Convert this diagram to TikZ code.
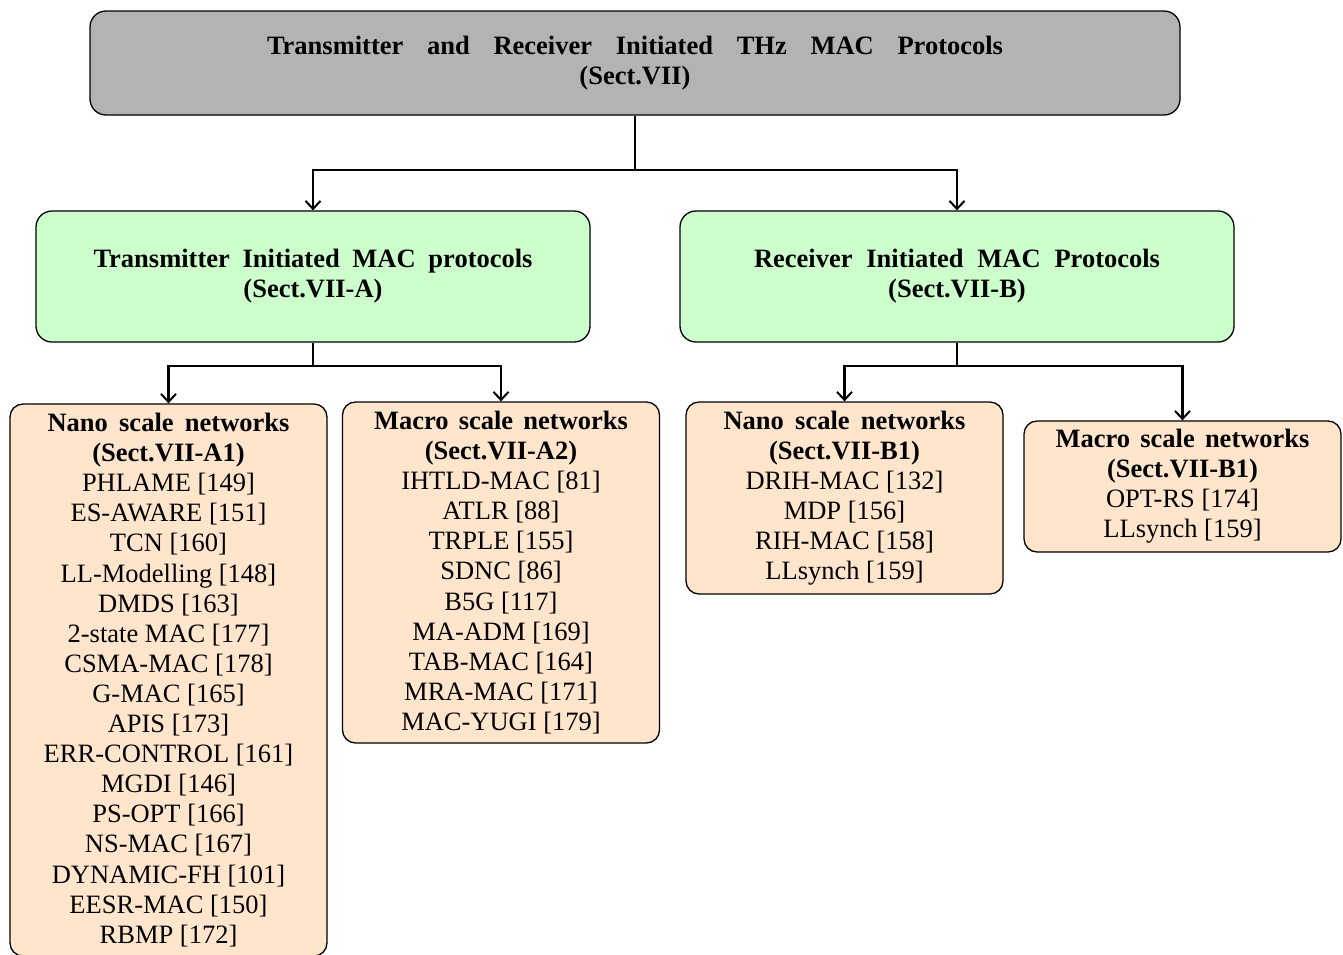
\documentclass[tikz,border=0pt]{standalone}
\usepackage{fontspec}
\setmainfont{Liberation Serif}
\usetikzlibrary{arrows.meta}
\definecolor{topgray}{HTML}{B3B3B3}
\definecolor{midgreen}{HTML}{CCFFCC}
\definecolor{peach}{HTML}{FFE5CC}
\begin{document}
\begin{tikzpicture}[x=1pt,y=-1pt,
  txt/.style={font=\fontsize{26.5}{30.1}\selectfont, align=center, inner sep=0pt},
  topbox/.style={txt, draw=black, line width=1.3pt, fill=topgray, rounded corners=16pt, minimum width=1090pt, minimum height=104pt},
  midbox/.style={txt, draw=black, line width=1.3pt, fill=midgreen, rounded corners=16pt, minimum width=554pt, minimum height=131pt},
  leafbox/.style={txt, draw=black, line width=1.3pt, fill=peach, rounded corners=13pt, minimum width=317pt},
  conn/.style={line width=2.6pt, -{Straight Barb[length=8pt,width=15pt,line width=2pt]}}
]
\useasboundingbox (0,0) rectangle (1343,954);

\node[topbox] (top) at (635,63) {\textbf{\makebox[736pt][s]{Transmitter and Receiver Initiated THz MAC Protocols}}\\ \textbf{(Sect.VII)}};

\node[midbox] (tx) at (313,276.5) {\textbf{\makebox[439pt][s]{Transmitter Initiated MAC protocols}}\\ \textbf{(Sect.VII-A)}};
\node[midbox] (rx) at (957,276.5) {\textbf{\makebox[406pt][s]{Receiver Initiated MAC Protocols}}\\ \textbf{(Sect.VII-B)}};

\node[leafbox, minimum height=552pt] (a1) at (168.5,680) {\textbf{\makebox[242pt][s]{Nano scale networks}}\\ \textbf{(Sect.VII-A1)}\\
PHLAME [149]\\ ES-AWARE [151]\\ TCN [160]\\ LL-Modelling [148]\\ DMDS [163]\\ 2-state MAC [177]\\ CSMA-MAC [178]\\ G-MAC [165]\\ APIS [173]\\ ERR-CONTROL [161]\\ MGDI [146]\\ PS-OPT [166]\\ NS-MAC [167]\\ DYNAMIC-FH [101]\\ EESR-MAC [150]\\ RBMP [172]};

\node[leafbox, minimum height=341pt] (a2) at (501,572.5) {\textbf{\makebox[254pt][s]{Macro scale networks}}\\ \textbf{(Sect.VII-A2)}\\
IHTLD-MAC [81]\\ ATLR [88]\\ TRPLE [155]\\ SDNC [86]\\ B5G [117]\\ MA-ADM [169]\\ TAB-MAC [164]\\ MRA-MAC [171]\\ MAC-YUGI [179]};

\node[leafbox, minimum height=192pt] (b1) at (844.5,498) {\textbf{\makebox[242pt][s]{Nano scale networks}}\\ \textbf{(Sect.VII-B1)}\\
DRIH-MAC [132]\\ MDP [156]\\ RIH-MAC [158]\\ LLsynch [159]};

\node[leafbox, minimum height=131pt] (b2) at (1182.5,486.5) {\textbf{\makebox[254pt][s]{Macro scale networks}}\\ \textbf{(Sect.VII-B1)}\\
OPT-RS [174]\\ LLsynch [159]};

\coordinate (j0) at (635,170);
\coordinate (j1) at (313,366);
\coordinate (j2) at (957,366);

\draw[line width=2.6pt] (top.south) -- (j0);
\draw[conn] (j0) -| (tx.north);
\draw[conn] (j0) -| (rx.north);

\draw[line width=2.6pt] (tx.south) -- (j1);
\draw[conn] (j1) -| (a1.north);
\draw[conn] (j1) -| (a2.north);

\draw[line width=2.6pt] (rx.south) -- (j2);
\draw[conn] (j2) -| (b1.north);
\draw[conn] (j2) -| (b2.north);
\end{tikzpicture}
\end{document}
